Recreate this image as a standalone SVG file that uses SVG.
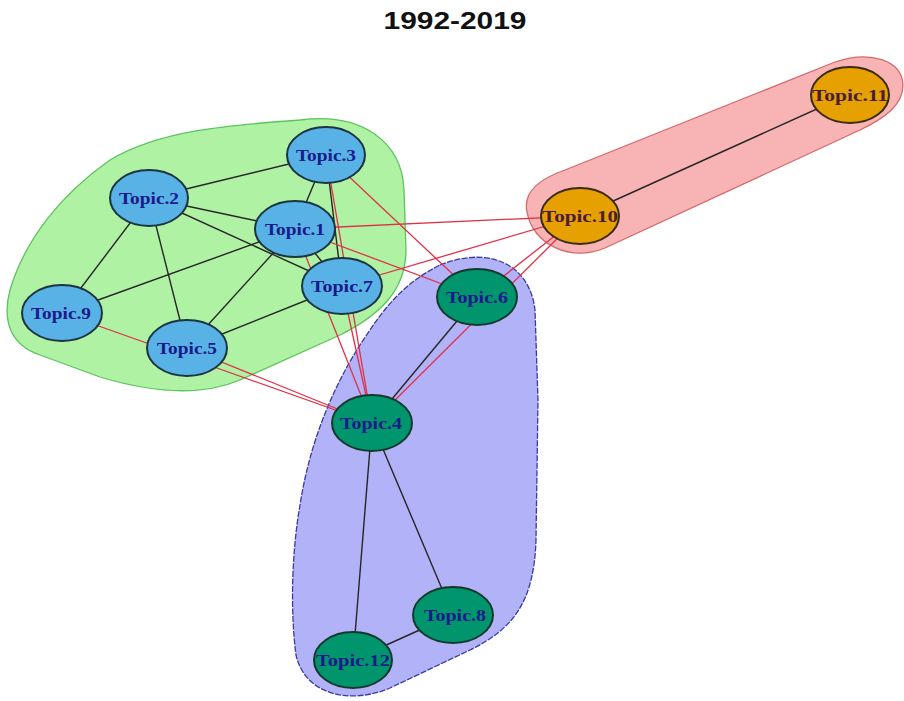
<svg xmlns="http://www.w3.org/2000/svg" width="904" height="701" viewBox="0 0 904 701">
<style>
.hull-g{fill:#b0f2a4;stroke:#5cc45c;stroke-width:1.3}
.hull-b{fill:#b2b2f8;stroke:#3a3aa0;stroke-width:1.3;stroke-dasharray:6 1.5}
.hull-r{fill:#f8b4b4;stroke:#d46a6a;stroke-width:1.3}
.e{stroke:#262626;stroke-width:1.4;fill:none}
.x{stroke:#e03048;stroke-width:1.3;fill:none}
.n-blue{fill:#58b2e6;stroke:#1c3440;stroke-width:2}
.n-green{fill:#00956c;stroke:#14382c;stroke-width:2}
.n-orange{fill:#e6a000;stroke:#3a2a10;stroke-width:2}
.lbl{font-family:"Liberation Serif","DejaVu Serif",serif;font-weight:bold;font-size:16px;fill:#1a1a8a;text-anchor:middle}
.lbl-o{fill:#4a1c36}
.title{font-family:"Liberation Sans",Arial,sans-serif;font-weight:bold;font-size:24px;fill:#111;text-anchor:middle}
</style>
<rect width="904" height="701" fill="#ffffff"/>
<text class="title" x="455" y="29" textLength="143" lengthAdjust="spacingAndGlyphs">1992-2019</text>
<g id="hulls">
<path class="hull-g" d="M 300,120 C 362,112 402,142 404,190 L 406,250 C 406,290 380,315 340,335 L 240,380 C 200,397 150,392 100,377 L 40,355 C 10,345 2,320 10,290 C 25,240 60,195 110,160 C 160,130 230,125 300,120 Z"/>
<path class="hull-b" d="M 440,265 C 490,245 530,265 535,310 L 538,400 L 536,540 C 534,600 515,628 470,650 L 390,688 C 350,705 305,695 296,655 C 290,610 292,550 300,505 C 310,440 335,380 370,330 C 390,300 410,280 440,265 Z"/>
<path class="hull-r" d="M 527,212 C 522,190 545,177 565,170 L 835,62 C 870,50 902,60 903,85 C 903,105 885,118 860,130 L 605,248 C 570,262 533,245 527,212 Z"/>
</g>
<g id="connectors">
<line class="e" x1="149" y1="198" x2="326" y2="155"/>
<line class="e" x1="149" y1="198" x2="295" y2="229"/>
<line class="e" x1="149" y1="198" x2="342" y2="286"/>
<line class="e" x1="149" y1="198" x2="62" y2="313"/>
<line class="e" x1="149" y1="198" x2="187" y2="348"/>
<line class="e" x1="326" y1="155" x2="295" y2="229"/>
<line class="e" x1="326" y1="155" x2="342" y2="286"/>
<line class="e" x1="295" y1="229" x2="62" y2="313"/>
<line class="e" x1="295" y1="229" x2="187" y2="348"/>
<line class="e" x1="295" y1="229" x2="342" y2="286"/>
<line class="e" x1="342" y1="286" x2="187" y2="348"/>
<line class="e" x1="477" y1="297" x2="372" y2="423"/>
<line class="e" x1="372" y1="423" x2="353" y2="660"/>
<line class="e" x1="372" y1="423" x2="453" y2="615"/>
<line class="e" x1="453" y1="615" x2="353" y2="660"/>
<line class="e" x1="580" y1="216" x2="850" y2="94"/>
<line class="x" x1="326" y1="155" x2="477" y2="297"/>
<line class="x" x1="295" y1="229" x2="580" y2="216"/>
<line class="x" x1="295" y1="229" x2="477" y2="297"/>
<line class="x" x1="342" y1="286" x2="580" y2="216"/>
<line class="x" x1="580" y1="216" x2="477" y2="297"/>
<line class="x" x1="580" y1="216" x2="372" y2="423"/>
<line class="x" x1="62" y1="313" x2="372" y2="423"/>
<line class="x" x1="187" y1="348" x2="372" y2="423"/>
<line class="x" x1="295" y1="229" x2="372" y2="423"/>
<line class="x" x1="326" y1="155" x2="372" y2="423"/>
<line class="x" x1="342" y1="286" x2="372" y2="423"/>
</g>
<g id="topic3"><ellipse class="n-blue" cx="326" cy="155" rx="39" ry="28"/><text class="lbl" x="326" y="161" textLength="60" lengthAdjust="spacingAndGlyphs">Topic.3</text></g>
<g id="topic2"><ellipse class="n-blue" cx="149" cy="198" rx="39" ry="28"/><text class="lbl" x="149" y="204" textLength="60" lengthAdjust="spacingAndGlyphs">Topic.2</text></g>
<g id="topic1"><ellipse class="n-blue" cx="295" cy="229" rx="40" ry="28"/><text class="lbl" x="295" y="235" textLength="60" lengthAdjust="spacingAndGlyphs">Topic.1</text></g>
<g id="topic7"><ellipse class="n-blue" cx="342" cy="286" rx="40" ry="28"/><text class="lbl" x="342" y="292" textLength="62" lengthAdjust="spacingAndGlyphs">Topic.7</text></g>
<g id="topic9"><ellipse class="n-blue" cx="62" cy="313" rx="40" ry="28"/><text class="lbl" x="61" y="319" textLength="60" lengthAdjust="spacingAndGlyphs">Topic.9</text></g>
<g id="topic5"><ellipse class="n-blue" cx="187" cy="348" rx="40" ry="28"/><text class="lbl" x="187" y="354" textLength="60" lengthAdjust="spacingAndGlyphs">Topic.5</text></g>
<g id="topic6"><ellipse class="n-green" cx="477" cy="297" rx="40" ry="28"/><text class="lbl" x="477" y="303" textLength="62" lengthAdjust="spacingAndGlyphs">Topic.6</text></g>
<g id="topic4"><ellipse class="n-green" cx="372" cy="423" rx="40" ry="28"/><text class="lbl" x="371" y="429" textLength="62" lengthAdjust="spacingAndGlyphs">Topic.4</text></g>
<g id="topic8"><ellipse class="n-green" cx="453" cy="615" rx="40" ry="28"/><text class="lbl" x="455" y="621" textLength="62" lengthAdjust="spacingAndGlyphs">Topic.8</text></g>
<g id="topic12"><ellipse class="n-green" cx="353" cy="660" rx="39" ry="28"/><text class="lbl" x="353" y="666" textLength="74" lengthAdjust="spacingAndGlyphs">Topic.12</text></g>
<g id="topic10"><ellipse class="n-orange" cx="580" cy="216" rx="39" ry="28"/><text class="lbl lbl-o" x="580" y="222" textLength="76" lengthAdjust="spacingAndGlyphs">Topic.10</text></g>
<g id="topic11"><ellipse class="n-orange" cx="850" cy="95" rx="39" ry="28"/><text class="lbl lbl-o" x="850" y="101" textLength="76" lengthAdjust="spacingAndGlyphs">Topic.11</text></g>
</svg>
